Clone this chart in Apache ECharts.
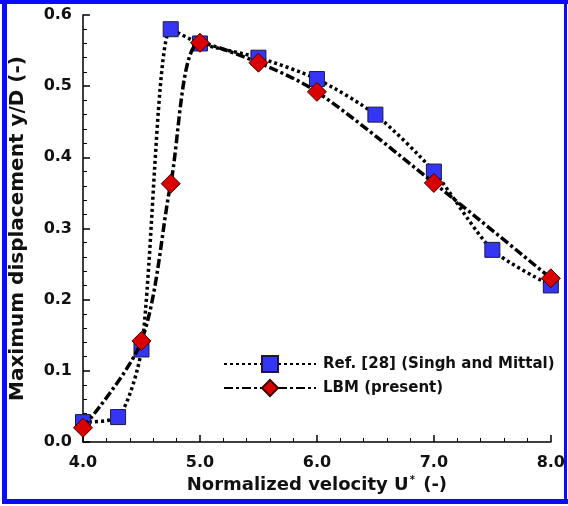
<!DOCTYPE html>
<html>
<head>
<meta charset="utf-8">
<script src="https://cdn.jsdelivr.net/npm/echarts@6/dist/echarts.min.js"></script>
<style>
html,body{margin:0;padding:0;background:#fff;}
#main{width:568px;height:506px;}
</style>
</head>
<body>
<div id="main"></div>
<script>
// Data
const refName = 'Ref. [28] (Singh and Mittal)';
const lbmName = 'LBM (present)';
const refX = [4.0, 4.3, 4.5, 4.75, 5.0, 5.5, 6.0, 6.5, 7.0, 7.5, 8.0];
const refY = [0.028, 0.035, 0.13, 0.58, 0.56, 0.54, 0.51, 0.46, 0.38, 0.27, 0.22];
const lbmX = [4.0, 4.5, 4.75, 5.0, 5.5, 6.0, 7.0, 8.0];
const lbmY = [0.02, 0.142, 0.363, 0.561, 0.533, 0.492, 0.364, 0.23];
const xTitle = 'Normalized velocity U';
const yTitle = 'Maximum displacement y/D (-)';

const chart = echarts.init(document.getElementById('main'), null, {renderer: 'canvas'});
const font = '"DejaVu Sans", Verdana, sans-serif';
const pair = (xs, ys) => xs.map((x, i) => [x, ys[i]]);

const option = {
  animation: false,
  backgroundColor: '#ffffff',
  grid: {left: 83, right: 15, top: 15, bottom: 64, containLabel: false},
  xAxis: {
    type: 'value', min: 4, max: 8, interval: 1,
    axisLine: {show: true, onZero: false, lineStyle: {color: '#000', width: 1.5}},
    axisTick: {show: true, inside: true, length: 7, lineStyle: {color: '#000', width: 1.5}},
    minorTick: {show: true, splitNumber: 5, length: 4, lineStyle: {color: '#000', width: 1}},
    splitLine: {show: false},
    axisLabel: {color: '#111', fontFamily: font, fontWeight: 'bold', fontSize: 16, margin: 13,
      formatter: v => v.toFixed(1)},
    name: xTitle + '{sup|*} (-)',
    nameLocation: 'middle', nameGap: 33,
    nameTextStyle: {color: '#111', fontFamily: font, fontWeight: 'bold', fontSize: 18,
      rich: {sup: {fontFamily: font, fontWeight: 'bold', fontSize: 10, color: '#111', verticalAlign: 'top', padding: [0, 2, 8, 1]}}}
  },
  yAxis: {
    type: 'value', min: 0, max: 0.6, interval: 0.1,
    axisLine: {show: true, onZero: false, lineStyle: {color: '#000', width: 1.5}},
    axisTick: {show: true, inside: true, length: 7, lineStyle: {color: '#000', width: 1.5}},
    minorTick: {show: true, splitNumber: 5, length: 4, lineStyle: {color: '#000', width: 1}},
    splitLine: {show: false},
    axisLabel: {color: '#111', fontFamily: font, fontWeight: 'bold', fontSize: 16, margin: 11,
      formatter: v => v.toFixed(1)},
    name: yTitle,
    nameLocation: 'middle', nameGap: 55, nameRotate: 90,
    nameTextStyle: {color: '#111', fontFamily: font, fontWeight: 'bold', fontSize: 20}
  },
  legend: {
    orient: 'vertical', left: 223, top: 355, padding: 0, itemWidth: 92, itemHeight: 20, itemGap: 6,
    textStyle: {color: '#111', fontFamily: font, fontWeight: 'bold', fontSize: 15, padding: [0, 0, 0, 2]},
    data: [refName, lbmName]
  },
  series: [
    {
      name: refName, type: 'line', smooth: 0.25, data: pair(refX, refY),
      symbol: 'rect', symbolSize: 15,
      itemStyle: {color: '#3535f5', borderColor: '#1a1a40', borderWidth: 1},
      lineStyle: {color: '#000', width: 3.5, type: [3, 3]},
      z: 2
    },
    {
      name: lbmName, type: 'line', smooth: 0.3, data: pair(lbmX, lbmY),
      symbol: 'diamond', symbolSize: 19,
      itemStyle: {color: '#d80000', borderColor: '#400000', borderWidth: 1},
      lineStyle: {color: '#000', width: 3.5, type: [9, 3, 3, 3]},
      z: 3
    }
  ],
  graphic: [
    {type: 'rect', shape: {x: 0, y: 0, width: 568, height: 4}, style: {fill: '#0a0aff'}, silent: true},
    {type: 'rect', shape: {x: 2, y: 0, width: 5, height: 504}, style: {fill: '#0a0aff'}, silent: true},
    {type: 'rect', shape: {x: 2, y: 499, width: 566, height: 5}, style: {fill: '#0a0aff'}, silent: true},
    {type: 'rect', shape: {x: 564, y: 0, width: 3, height: 504}, style: {fill: '#0a0aff'}, silent: true}
  ]
};
chart.setOption(option);
</script>
</body>
</html>
